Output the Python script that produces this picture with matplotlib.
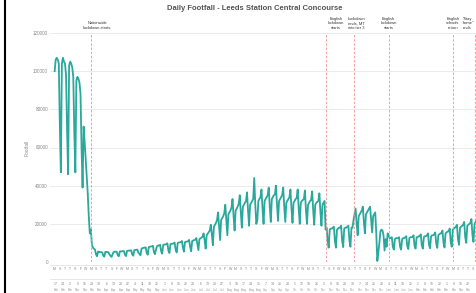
import datetime as dt
import numpy as np
import matplotlib.pyplot as plt
from matplotlib.lines import Line2D

# daily footfall in thousands, Mon..Sun rows, starting Monday 17 Feb 2020
pre_lockdown = [
    100, 106, 107, 106, 104, 72, 47,
    104, 107, 105, 104, 98, 70, 46,
    103, 105, 104, 102, 97, 68, 47,
    95, 97, 96, 94, 88, 60, 39,
    71, 63, 54, 45, 36, 24, 15,
    17, 9, 7.5, 7, 6.5, 4, 3,
]
first_lockdown = [
    5.5, 5.3, 5.2, 5.2, 5.0, 3.4, 2.8,
    5.3, 5.3, 5.2, 5.1, 4.0, 3.2, 2.7,
    4.0, 5.3, 5.4, 5.4, 5.4, 3.6, 3.0,
    5.5, 5.6, 5.6, 5.7, 5.7, 3.8, 3.1,
    5.8, 5.9, 6.0, 6.0, 6.1, 4.0, 3.3,
    6.2, 6.3, 6.4, 6.5, 4.8, 4.3, 3.5,
    7.0, 7.3, 7.4, 7.5, 7.7, 4.8, 3.8,
    7.8, 8.0, 8.1, 8.2, 8.5, 5.2, 4.1,
    6.5, 8.4, 8.6, 8.7, 9.0, 5.6, 4.4,
    9.0, 9.1, 9.2, 9.3, 9.8, 6.0, 4.7,
    9.4, 9.5, 9.6, 9.7, 10.2, 6.4, 5.0,
]
reopening = [
    10.0, 10.2, 10.3, 10.4, 11.0, 7.6, 5.4,
    10.4, 10.6, 10.7, 10.9, 11.6, 8.0, 5.6,
    11.0, 11.3, 11.5, 11.7, 12.6, 9.5, 6.2,
    12.0, 12.4, 12.8, 13.2, 15.0, 11.5, 7.0,
    14.0, 14.8, 15.5, 16.5, 19.5, 14.5, 8.8,
    18.5, 19.5, 20.5, 22, 26, 19, 11.5,
    22, 23, 24, 25.5, 30, 22, 14,
    25, 26, 27, 28.5, 33, 24, 16.5,
    27, 28, 29, 30.5, 35, 26, 18,
    29, 30, 31, 32, 36.5, 27, 19,
]
autumn = [
    30, 31, 32, 33, 44, 30, 20,
    22, 32, 33, 34, 38, 28, 20,
    32, 33, 34, 35, 39, 29, 21,
    33, 34, 35, 35.5, 40, 30, 21.5,
    32, 33, 34, 35, 39, 29, 21,
    31, 32, 33, 34, 38, 28, 20.5,
    31, 32, 33, 33.5, 38, 28, 20,
    31, 32, 32.5, 33, 37.5, 27, 20,
    30, 31, 32, 32.5, 37, 27, 19.5,
    30, 31, 31.5, 32, 36, 26, 19,
]
november_lockdown = [
    30, 31, 32, 17, 18, 11, 7.5,
    17, 17.5, 17.5, 18, 18.5, 11, 7.5,
    17, 17.5, 18, 18, 19, 11, 7.8,
    17.5, 18, 18, 18.5, 19, 11.5, 8,
]
december = [
    18, 18, 22, 25, 28, 20, 14,
    24, 25, 26, 27, 29, 21, 15,
    25, 26, 27, 28, 29, 22, 15.5,
    24, 25, 26, 15, 0.5, 5, 10,
    16, 17, 16.5, 14, 6, 12, 8,
]
third_lockdown = [
    15, 14, 12.5, 12.5, 13, 8, 6.5,
    12, 12.5, 12.5, 12.5, 13, 8, 6.5,
    12, 12.5, 12.5, 13, 13.5, 8.2, 6.8,
    12.5, 13, 13, 13, 14, 8.5, 7,
    13, 13, 13.5, 13.5, 14.5, 8.8, 7,
    13, 13.5, 13.5, 14, 15, 9, 7.2,
    13.5, 14, 14, 14.5, 15.5, 9.5, 7.4,
    14, 14.5, 15, 15, 16.5, 10, 7.6,
    15, 15.5, 16, 16, 17.5, 10.5, 8,
    17, 17.5, 18, 18.5, 19.5, 12, 9,
    18, 18.5, 19, 19.5, 21, 13, 10,
    19, 19.5, 20, 20.5, 22.5, 14, 10.5,
    20, 21, 22, 23, 18, 16, 12,
]

start = dt.date(2020, 2, 17)
event_dates = [dt.date(2020, 3, 23), dt.date(2020, 11, 5), dt.date(2020, 12, 2),
               dt.date(2021, 1, 5), dt.date(2021, 3, 8), dt.date(2021, 3, 29)]
event_labels = ["Nationwide\nlockdown starts", "English\nlockdown\nstarts",
                "Lockdown\nends, MT\ninto tier 3", "English\nlockdown\nstarts",
                "English\nschools\nreturn", "\"Stay\nhome\"\nends"]
day_letters = ["M", "T", "W", "T", "F", "S", "S"]

footfall = np.array(pre_lockdown + first_lockdown + reopening + autumn
                    + november_lockdown + december + third_lockdown) * 1000
days = np.arange(len(footfall))

W, H = 477, 293
fig = plt.figure(figsize=(W / 100, H / 100), dpi=100)
plt.rcParams['font.family'] = ['Liberation Sans', 'DejaVu Sans']

# axes: left px 50, bottom px 262, top px 33; right runs past the figure edge
x0, x1 = -4.5, 420
ax = fig.add_axes([50 / W, 1 - 262 / H, 439 / W, 229 / H])
ax.plot(days, footfall, color='#29a89c', lw=1.3)
ax.set_xlim(x0, x1)
ax.set_ylim(0, 120000)
ax.set_yticks(range(0, 120001, 20000))
ax.tick_params(axis='y', labelsize=3.3, colors='#888888', length=0, pad=1.5)
ax.set_xticks([])
ax.grid(axis='y', color='#e8e8e8', lw=0.6)
for s in ax.spines.values():
    s.set_visible(False)
ax.set_ylabel('Footfall', fontsize=3.5, color='#888888', labelpad=2)

# event lines and notes
off = [6, 10, 3, 0, 0, -11]
align = ['center', 'center', 'center', 'center', 'center', 'left']
for d, lab, o, ha in zip(event_dates, event_labels, off, align):
    x = (d - start).days
    ax.axvline(x, color='#f09090', lw=0.6, ls=(0, (3, 2)))
    ax.text(x + o, 1.015, lab, transform=ax.get_xaxis_transform(), fontsize=2.9,
            color='#333333', ha=ha, va='bottom', linespacing=1.1)

# x label rows: day letters, Monday dates, months
tr = ax.get_xaxis_transform()
last = 406
for d in range(0, last, 5):
    day = start + dt.timedelta(days=int(d))
    ax.text(d, -0.03, day_letters[day.weekday()], transform=tr, fontsize=2.5,
            color='#888888', ha='center', va='center')
for d in range(0, last, 7):
    day = start + dt.timedelta(days=int(d))
    ax.text(d + 1, -0.097, str(day.day), transform=tr, fontsize=2.5,
            color='#888888', ha='center', va='center')
    ax.text(d + 1, -0.122, day.strftime('%b'), transform=tr, fontsize=2.0,
            color='#999999', ha='center', va='center')
ax.add_line(Line2D([x0, x1], [-0.012, -0.012], transform=tr, color='#dddddd',
                   lw=0.5, clip_on=False))
ax.add_line(Line2D([x0, x1], [-0.075, -0.075], transform=tr, color='#dddddd',
                   lw=0.5, clip_on=False))

fig.text(255 / W, 1 - 9 / H, 'Daily Footfall - Leeds Station Central Concourse',
         fontsize=5.5, fontweight='bold', color='#555555', ha='center', va='center')
fig.add_artist(Line2D([5 / W, 5 / W], [0, 1], color='black', lw=1.5))

fig.savefig('out.png', dpi=100)
